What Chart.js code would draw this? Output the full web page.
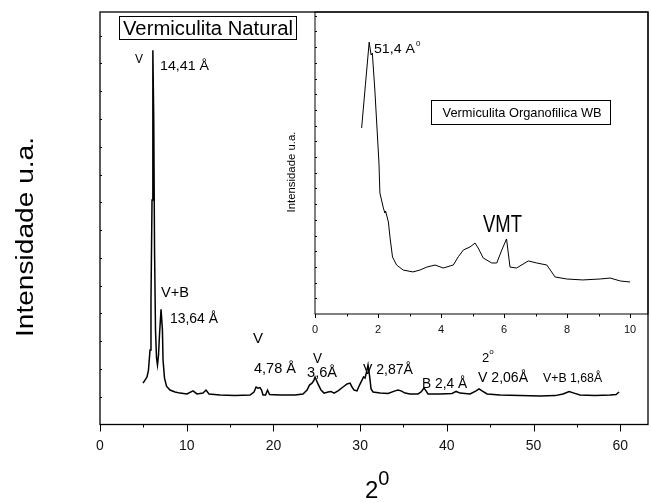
<!DOCTYPE html>
<html>
<head>
<meta charset="utf-8">
<script src="https://cdn.jsdelivr.net/npm/chart.js@4.4.1/dist/chart.umd.min.js"></script>
<style>
  html, body { margin: 0; padding: 0; background: #fff; }
  #wrap { position: relative; width: 651px; height: 503px; }
  #mainChart { position: absolute; left: 0; top: 0; }
  #insetChart { position: absolute; left: 280px; top: 0; }
</style>
</head>
<body>
<div id="wrap">
  <canvas id="mainChart" width="651" height="503"></canvas>
  <canvas id="insetChart" width="371" height="372"></canvas>
</div>
<script>
// Vermiculita natural, 2 theta (degrees) vs intensity (a.u.)
const naturalTheta = [4.96, 5.19, 5.42, 5.59, 5.77, 5.88, 6.0, 6.08, 6.11, 6.2, 6.29, 6.4, 6.52, 6.63, 6.75, 6.86, 7.04, 7.2, 7.27, 7.44, 7.67, 8.07, 8.65, 9.23, 10.03, 10.73, 11.19, 11.88, 12.23, 12.57, 13.84, 15.57, 17.3, 17.76, 18.0, 18.23, 18.45, 18.63, 18.8, 19.09, 19.32, 19.55, 20.76, 22.5, 23.41, 23.88, 24.16, 24.45, 24.68, 24.8, 25.14, 25.49, 25.84, 26.3, 26.64, 26.99, 27.45, 28.03, 28.49, 28.84, 29.07, 29.3, 29.64, 29.93, 30.22, 30.39, 30.57, 30.74, 30.91, 31.08, 31.26, 31.49, 32.3, 33.22, 34.03, 34.37, 34.72, 35.18, 35.76, 36.68, 37.03, 37.37, 37.6, 37.83, 39.22, 40.6, 41.07, 41.52, 42.68, 43.37, 43.71, 44.06, 44.64, 46.14, 48.44, 50.75, 52.48, 53.4, 54.1, 54.67, 55.36, 57.09, 58.82, 59.52, 59.86];
const naturalIntensity = [1.49, 1.60, 1.71, 1.96, 2.68, 4.48, 8.08, 11.67, 13.47, 10.95, 6.28, 3.40, 2.39, 2.14, 2.50, 3.22, 4.15, 3.40, 2.32, 1.67, 1.38, 1.24, 1.17, 1.13, 1.10, 1.21, 1.10, 1.13, 1.24, 1.10, 1.06, 1.04, 1.06, 1.17, 1.35, 1.31, 1.33, 1.24, 1.06, 1.06, 1.24, 1.08, 1.06, 1.06, 1.10, 1.24, 1.42, 1.49, 1.60, 1.71, 1.46, 1.24, 1.13, 1.17, 1.19, 1.13, 1.21, 1.35, 1.46, 1.49, 1.35, 1.24, 1.21, 1.42, 1.60, 1.71, 1.67, 1.89, 2.14, 1.78, 1.28, 1.17, 1.13, 1.12, 1.21, 1.24, 1.21, 1.13, 1.10, 1.10, 1.17, 1.31, 1.21, 1.10, 1.10, 1.12, 1.19, 1.13, 1.10, 1.21, 1.28, 1.21, 1.10, 1.06, 1.04, 1.03, 1.04, 1.10, 1.19, 1.13, 1.06, 1.04, 1.06, 1.08, 1.17];

// Vermiculita organofilica WB (inset)
const organoTheta = [1.48, 1.60, 1.72, 1.78, 1.82, 1.9, 2.03, 2.06, 2.17, 2.22, 2.24, 2.33, 2.38, 2.46, 2.59, 2.8, 3.11, 3.33, 3.55, 3.81, 4.07, 4.39, 4.55, 4.71, 4.92, 5.08, 5.18, 5.34, 5.61, 5.77, 5.93, 6.08, 6.19, 6.4, 6.77, 7.04, 7.36, 7.62, 7.99, 8.5, 9.05, 9.37, 9.7, 10.0];
const organoIntensity = [11.85, 14.6, 17.32, 16.50, 16.62, 14.27, 9.62, 7.71, 6.75, 6.43, 6.56, 5.86, 4.90, 3.63, 3.12, 2.80, 2.68, 2.80, 2.99, 3.12, 2.93, 3.12, 3.65, 4.08, 4.27, 4.52, 4.20, 3.57, 3.25, 3.25, 4.08, 4.78, 2.99, 2.93, 3.38, 3.25, 3.12, 2.36, 2.23, 2.17, 2.23, 2.29, 2.10, 2.04];

// peak labels, placed in data units
const naturalLabels = [
  { text: "V", x: 4.04, y: 13.0, size: 13, w: 8 },
  { text: "14,41 Å", x: 6.92, y: 12.75, size: 13, w: 49 },
  { text: "V+B", x: 7.04, y: 4.59, size: 14, w: 28 },
  { text: "13,64 Å", x: 8.07, y: 3.67, size: 14, w: 48 },
  { text: "V", x: 17.65, y: 2.93, size: 14, w: 10 },
  { text: "4,78 Å", x: 17.76, y: 1.85, size: 14, w: 42 },
  { text: "V", x: 24.57, y: 2.20, size: 14, w: 9 },
  { text: "3,6Å", x: 23.88, y: 1.71, size: 14, w: 30 },
  { text: "V 2,87Å", x: 30.33, y: 1.82, size: 14, w: 50 },
  { text: "B 2,4 Å", x: 37.14, y: 1.31, size: 14, w: 45 },
  { text: "V 2,06Å", x: 43.60, y: 1.53, size: 14, w: 50 },
  { text: "V+B 1,68Å", x: 51.10, y: 1.53, size: 12, w: 59 },
  { text: "Vermiculita Natural", x: 2.65, y: 14.01, size: 20, w: 170, box: [4, 3, 19, 4] }
];
const organoLabels = [
  { text: "51,4 A", x: 1.87, y: 16.62, size: 13, w: 41, sup: { text: "0", size: 8, dx: 1, dy: -7 } },
  { text: "Vermiculita Organofilica WB", x: 4.05, y: 12.53, size: 13, w: 159, box: [11.7, 8.3, 17, 7] },
  { text: "VMT", x: 5.33, y: 5.22, size: 23, w: 39 }
];

const FONT = '"Liberation Sans", Arial, Helvetica, sans-serif';

function drawText(ctx, text, x, y, size, w) {
  ctx.save();
  ctx.font = size + "px " + FONT;
  ctx.textAlign = "left";
  ctx.textBaseline = "alphabetic";
  const m = ctx.measureText(text).width;
  const sx = w ? w / m : 1;
  ctx.translate(x, y);
  ctx.scale(sx, 1);
  ctx.fillText(text, 0, 0);
  ctx.restore();
  return m * sx;
}

function drawRotated(ctx, text, baseX, centerY, size, w) {
  ctx.save();
  ctx.font = size + "px " + FONT;
  ctx.textAlign = "center";
  ctx.textBaseline = "alphabetic";
  const m = ctx.measureText(text).width;
  ctx.translate(baseX, centerY);
  ctx.rotate(-Math.PI / 2);
  ctx.scale(w / m, 1);
  ctx.fillText(text, 0, 0);
  ctx.restore();
}

const decor = {
  id: "decor",
  afterDraw(chart, args, opts) {
    const ctx = chart.ctx;
    const a = chart.chartArea;
    const xs = chart.scales.x, ys = chart.scales.y;
    ctx.save();
    ctx.fillStyle = "#000";
    ctx.strokeStyle = "#000";
    // frame
    ctx.lineWidth = opts.frameWidth;
    ctx.strokeRect(a.left, a.top, a.right - a.left, a.bottom - a.top);
    // x tick marks (outward)
    ctx.lineWidth = 1;
    for (let v = 0; v <= xs.max + 1e-6; v += opts.xMinor) {
      const major = Math.abs(v / opts.xMajor - Math.round(v / opts.xMajor)) < 1e-6;
      const px = Math.round(xs.getPixelForValue(v)) + 0.5;
      ctx.beginPath();
      ctx.moveTo(px, a.bottom);
      ctx.lineTo(px, a.bottom + (major ? opts.majorLen : opts.minorLen));
      ctx.stroke();
    }
    // y tick marks (inward)
    for (let v = 1; v < ys.max; v += 1) {
      const py = Math.round(ys.getPixelForValue(v)) + 0.5;
      ctx.beginPath();
      ctx.moveTo(a.left, py);
      ctx.lineTo(a.left + 2, py);
      ctx.stroke();
    }
    // labels
    opts.labels.forEach((l) => {
      const px = xs.getPixelForValue(l.x);
      const py = ys.getPixelForValue(l.y);
      const tw = drawText(ctx, l.text, px, py, l.size, l.w);
      if (l.sup) {
        drawText(ctx, l.sup.text, px + tw + l.sup.dx, py + l.sup.dy, l.sup.size);
      }
      if (l.box) {
        ctx.lineWidth = 1;
        ctx.strokeRect(
          Math.round(px - l.box[0]) + 0.5,
          Math.round(py - l.box[2]) + 0.5,
          Math.round(tw + l.box[0] + l.box[1]),
          Math.round(l.box[2] + l.box[3])
        );
      }
    });
    // axis titles
    const t = opts.titles;
    drawRotated(ctx, t.y.text, t.y.x, t.y.cy, t.y.size, t.y.w);
    const w2 = drawText(ctx, t.x.text, t.x.x, t.x.y, t.x.size);
    drawText(ctx, t.x.sup, t.x.x + w2 + t.x.supDx, t.x.y + t.x.supDy, t.x.supSize);
    ctx.restore();
  }
};

function lineData(xs, ys) {
  return xs.map((x, i) => ({ x: x, y: ys[i] }));
}

new Chart(document.getElementById("mainChart"), {
  type: "line",
  data: {
    datasets: [{
      data: lineData(naturalTheta, naturalIntensity),
      borderColor: "#000",
      borderWidth: 1.5,
      pointRadius: 0,
      tension: 0,
      fill: false
    }]
  },
  options: {
    responsive: false,
    animation: false,
    devicePixelRatio: 1,
    layout: { padding: { left: 100, right: 3, top: 12, bottom: 0 } },
    plugins: {
      legend: { display: false },
      tooltip: { enabled: false },
      decor: {
        frameWidth: 1.3,
        xMajor: 10, xMinor: 5, majorLen: 7, minorLen: 3,
        labels: naturalLabels,
        titles: {
          y: { text: "Intensidade u.a.", x: 33, cy: 237, size: 23, w: 200 },
          x: { text: "2", x: 365, y: 498, size: 24, sup: "0", supSize: 20, supDx: 0, supDy: -13 }
        }
      }
    },
    scales: {
      x: {
        type: "linear", min: 0, max: 63.2,
        afterFit(s) { s.height = 78.5; },
        grid: { display: false, drawTicks: false },
        border: { display: false },
        ticks: { stepSize: 10, includeBounds: false, padding: 13, maxRotation: 0, color: "#111", font: { size: 14, family: FONT } }
      },
      y: {
        type: "linear", min: 0, max: 14.85,
        afterFit(s) { s.width = 0; },
        grid: { display: false, drawTicks: false },
        border: { display: false },
        ticks: { display: false, stepSize: 1 }
      }
    }
  },
  plugins: [decor]
});

new Chart(document.getElementById("insetChart"), {
  type: "line",
  data: {
    datasets: [{
      data: lineData(organoTheta, organoIntensity),
      borderColor: "#000",
      borderWidth: 1,
      pointRadius: 0,
      tension: 0,
      fill: false
    }]
  },
  options: {
    responsive: false,
    animation: false,
    devicePixelRatio: 1,
    layout: { padding: { left: 35, right: 3, top: 12, bottom: 0 } },
    plugins: {
      legend: { display: false },
      tooltip: { enabled: false },
      decor: {
        frameWidth: 1,
        xMajor: 2, xMinor: 1, majorLen: 4, minorLen: 2.5,
        labels: organoLabels,
        titles: {
          y: { text: "Intensidade u.a.", x: 15, cy: 172, size: 11, w: 81 },
          x: { text: "2", x: 202, y: 362, size: 13, sup: "o", supSize: 8, supDx: 0, supDy: -8 }
        }
      }
    },
    scales: {
      x: {
        type: "linear", min: 0, max: 10.57,
        afterFit(s) { s.height = 58; },
        grid: { display: false, drawTicks: false },
        border: { display: false },
        ticks: { stepSize: 2, includeBounds: false, padding: 9, maxRotation: 0, color: "#111", font: { size: 11, family: FONT } }
      },
      y: {
        type: "linear", min: 0, max: 19.24,
        afterFit(s) { s.width = 0; },
        grid: { display: false, drawTicks: false },
        border: { display: false },
        ticks: { display: false, stepSize: 1 }
      }
    }
  },
  plugins: [decor]
});
</script>
</body>
</html>
